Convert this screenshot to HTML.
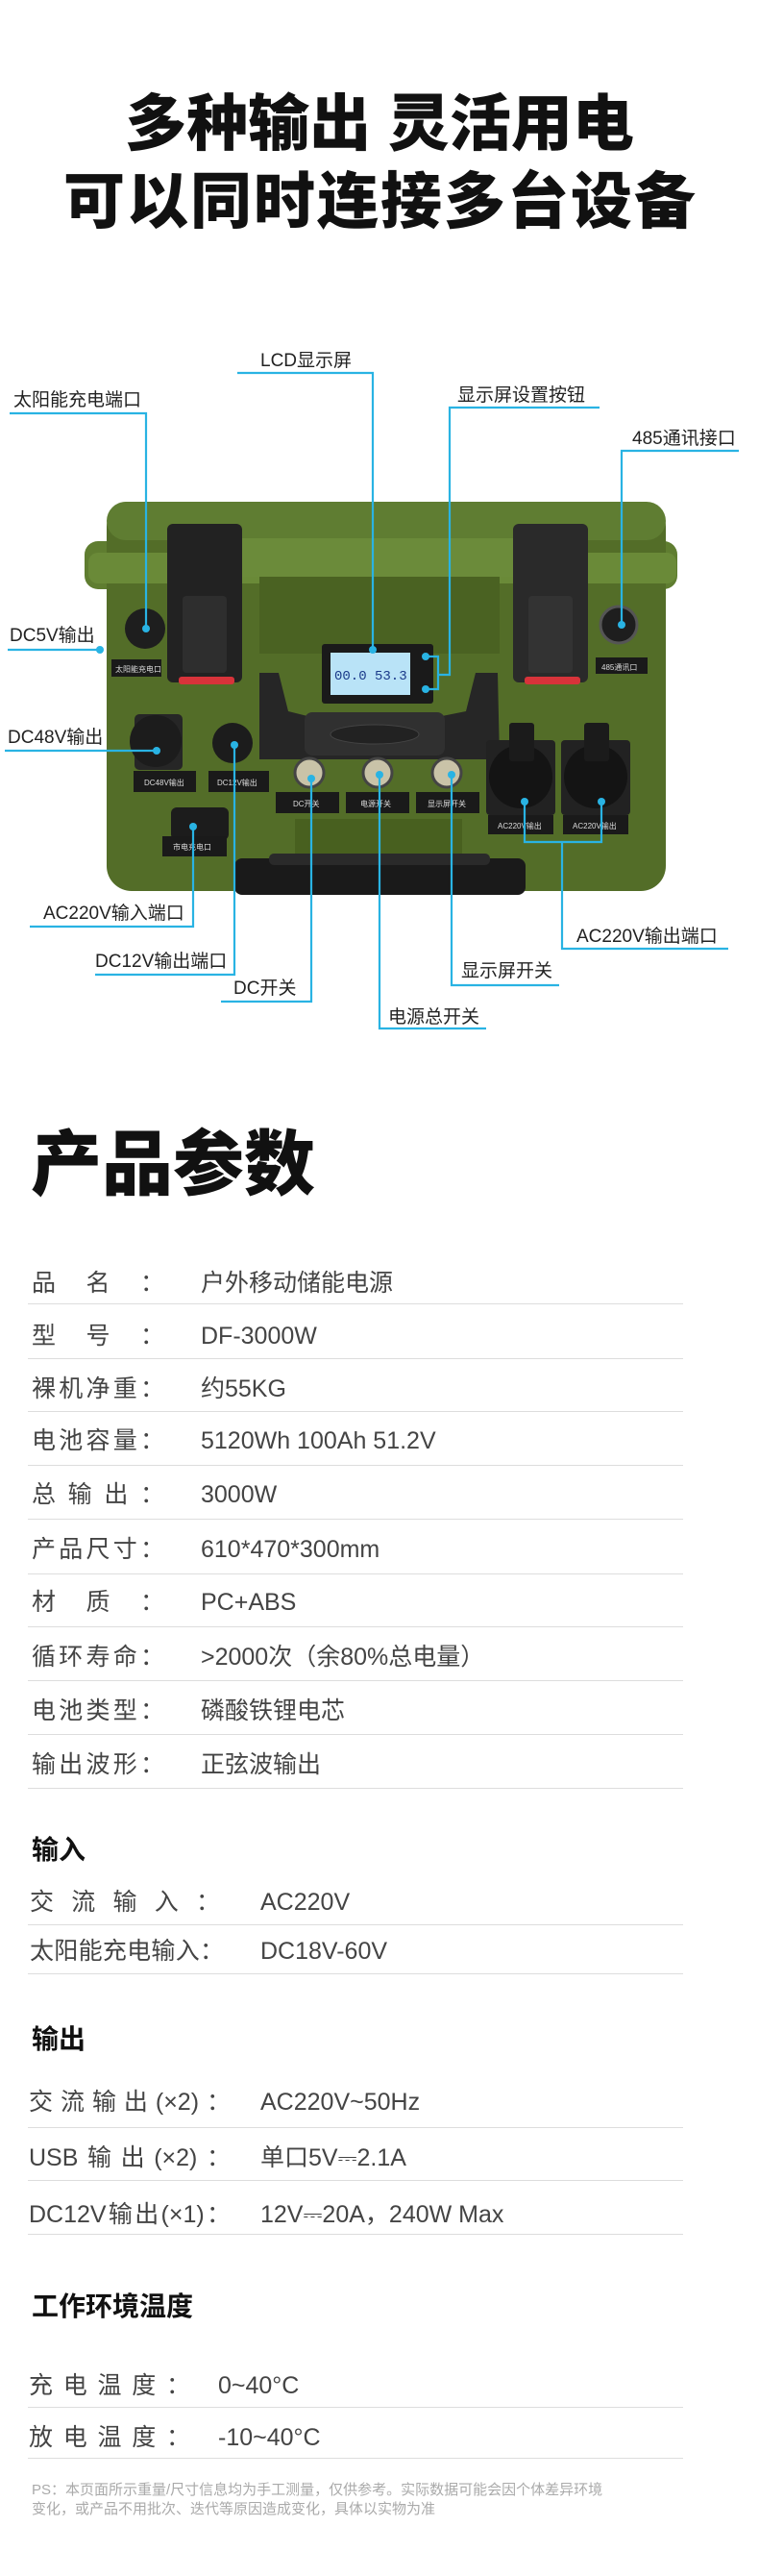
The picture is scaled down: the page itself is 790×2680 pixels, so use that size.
<!DOCTYPE html>
<html><head><meta charset="utf-8"><style>
*{margin:0;padding:0;box-sizing:border-box}
body{width:790px;height:2680px;background:#fff;position:relative;overflow:hidden;font-family:"Liberation Sans","Noto Sans CJK SC",sans-serif;color:#333}
.t{position:absolute;white-space:nowrap}
.h1{font-weight:900;font-size:64px;color:#111;left:0;width:790px;text-align:center;line-height:1}
.row{position:absolute;left:29px;width:682px;border-bottom:1px solid #ddd}
.lab{position:absolute;left:4px;text-align-last:justify;font-size:25px;color:#444;line-height:1}
.val{position:absolute;font-size:25px;color:#444;line-height:1}
.sec{position:absolute;left:33px;font-weight:bold;font-size:28px;color:#111;line-height:1}
</style></head><body>
<div class="t h1" style="top:97px">多种输出 灵活用电</div>
<div class="t h1" style="top:178px;letter-spacing:2px;padding-left:2px">可以同时连接多台设备</div>

<svg style="position:absolute;left:0;top:0" width="790" height="1100">
<g font-family="Liberation Sans,Noto Sans CJK SC,sans-serif" font-size="19" fill="#222">
<!-- device -->
<rect x="88" y="563" width="617" height="50" rx="14" fill="#5f7d30"/>
<rect x="111" y="522" width="582" height="405" rx="26" fill="#536d28"/>
<rect x="111" y="522" width="582" height="40" rx="20" fill="#5f7d32"/>
<rect x="92" y="575" width="612" height="32" rx="10" fill="#6a8a38"/>
<rect x="250" y="560" width="300" height="40" fill="#6b8b3a"/>
<rect x="270" y="600" width="250" height="80" fill="#4a6222"/>
<!-- latches -->
<rect x="174" y="545" width="78" height="165" rx="6" fill="#222"/>
<rect x="190" y="620" width="46" height="80" rx="4" fill="#2e2e2e"/>
<rect x="186" y="704" width="58" height="8" rx="3" fill="#d8333a"/>
<rect x="534" y="545" width="78" height="165" rx="6" fill="#2a2a2a"/>
<rect x="550" y="620" width="46" height="80" rx="4" fill="#333"/>
<rect x="546" y="704" width="58" height="8" rx="3" fill="#d8333a"/>
<!-- handle around lcd -->
<path d="M270 700 L290 700 L300 740 L320 745 L460 745 L485 740 L495 700 L518 700 L520 790 L270 790 Z" fill="#262626"/>
<rect x="317" y="741" width="146" height="45" rx="8" fill="#303030"/>
<ellipse cx="390" cy="764" rx="46" ry="10" fill="#222" stroke="#444"/>
<!-- lcd -->
<rect x="335" y="670" width="116" height="62" rx="3" fill="#1a1a1a"/>
<rect x="344" y="679" width="83" height="44" fill="#b9e3f7"/>
<text x="348" y="707" font-size="14" fill="#1a3a8a" font-family="Liberation Mono,monospace">00.0 53.3</text>
<!-- ports left -->
<circle cx="151" cy="654" r="21" fill="#1e1e1e"/>
<rect x="116" y="686" width="52" height="18" fill="#1a1a1a"/>
<text x="120" y="699" font-size="8" fill="#ddd">太阳能充电口</text>
<circle cx="644" cy="650" r="19" fill="#1e1e1e" stroke="#555" stroke-width="3"/>
<rect x="620" y="684" width="54" height="17" fill="#1a1a1a"/>
<text x="626" y="697" font-size="8" fill="#ddd">485通讯口</text>
<rect x="140" y="743" width="50" height="58" rx="5" fill="#262626"/>
<circle cx="162" cy="771" r="27" fill="#1c1c1c"/>
<circle cx="242" cy="773" r="21" fill="#1c1c1c"/>
<rect x="139" y="802" width="65" height="22" fill="#1a1a1a"/>
<text x="150" y="817" font-size="8" fill="#ddd">DC48V输出</text>
<rect x="217" y="802" width="63" height="22" fill="#1a1a1a"/>
<text x="226" y="817" font-size="8" fill="#ddd">DC12V输出</text>
<rect x="178" y="840" width="60" height="34" rx="6" fill="#1c1c1c"/>
<rect x="169" y="870" width="67" height="21" fill="#1a1a1a"/>
<text x="180" y="884" font-size="8" fill="#ddd">市电充电口</text>
<!-- switches -->
<circle cx="322" cy="804" r="15" fill="#c9c3a8" stroke="#444" stroke-width="3"/>
<circle cx="393" cy="804" r="15" fill="#c9c3a8" stroke="#444" stroke-width="3"/>
<circle cx="465" cy="804" r="15" fill="#c9c3a8" stroke="#444" stroke-width="3"/>
<rect x="287" y="824" width="66" height="22" fill="#1a1a1a"/>
<text x="305" y="839" font-size="8" fill="#ddd">DC开关</text>
<rect x="360" y="824" width="66" height="22" fill="#1a1a1a"/>
<text x="375" y="839" font-size="8" fill="#ddd">电源开关</text>
<rect x="433" y="824" width="66" height="22" fill="#1a1a1a"/>
<text x="445" y="839" font-size="8" fill="#ddd">显示屏开关</text>
<!-- ac outlets -->
<rect x="506" y="770" width="72" height="78" rx="4" fill="#222"/>
<rect x="584" y="770" width="72" height="78" rx="4" fill="#222"/>
<circle cx="542" cy="808" r="33" fill="#141414"/>
<circle cx="620" cy="808" r="33" fill="#141414"/>
<rect x="530" y="752" width="26" height="40" rx="3" fill="#1b1b1b"/>
<rect x="608" y="752" width="26" height="40" rx="3" fill="#1b1b1b"/>
<rect x="508" y="848" width="68" height="20" fill="#1a1a1a"/>
<rect x="586" y="848" width="68" height="20" fill="#1a1a1a"/>
<text x="518" y="862" font-size="8" fill="#ddd">AC220V输出</text>
<text x="596" y="862" font-size="8" fill="#ddd">AC220V输出</text>
<!-- bottom handle -->
<rect x="307" y="852" width="174" height="45" fill="#48601f"/>
<rect x="244" y="893" width="303" height="38" rx="8" fill="#1a1a1a"/>
<rect x="280" y="888" width="230" height="12" rx="5" fill="#2a2a2a"/>
</g>
<!-- callouts -->
<g stroke="#29b3e3" stroke-width="2.2" fill="none">
<polyline points="247,388 388,388 388,676"/>
<polyline points="10,430 152,430 152,654"/>
<polyline points="624,424 468,424 468,702 456,702"/>
<polyline points="443,683 456,683 456,717 443,717"/>
<polyline points="769,469 647,469 647,650"/>
<line x1="8" y1="676" x2="104" y2="676"/>
<line x1="5" y1="781" x2="163" y2="781"/>
<polyline points="31,964 201,964 201,860"/>
<polyline points="99,1014 244,1014 244,775"/>
<polyline points="230,1042 324,1042 324,810"/>
<polyline points="506,1070 395,1070 395,806"/>
<polyline points="582,1025 470,1025 470,806"/>
<polyline points="758,987 585,987 585,876"/>
<polyline points="546,834 546,876 626,876 626,834"/>
</g>
<g fill="#29b3e3">
<circle cx="388" cy="676" r="4"/><circle cx="152" cy="654" r="4"/><circle cx="443" cy="683" r="4"/><circle cx="443" cy="717" r="4"/>
<circle cx="647" cy="650" r="4"/><circle cx="104" cy="676" r="4"/><circle cx="163" cy="781" r="4"/><circle cx="201" cy="860" r="4"/>
<circle cx="244" cy="775" r="4"/><circle cx="324" cy="810" r="4"/><circle cx="395" cy="806" r="4"/><circle cx="470" cy="806" r="4"/>
<circle cx="546" cy="834" r="4"/><circle cx="626" cy="834" r="4"/>
</g>
<g font-family="Liberation Sans,Noto Sans CJK SC,sans-serif" font-size="19" fill="#222">
<text x="271" y="381">LCD显示屏</text>
<text x="14" y="422">太阳能充电端口</text>
<text x="476" y="417">显示屏设置按钮</text>
<text x="658" y="462">485通讯接口</text>
<text x="10" y="667">DC5V输出</text>
<text x="8" y="773">DC48V输出</text>
<text x="45" y="956">AC220V输入端口</text>
<text x="99" y="1006">DC12V输出端口</text>
<text x="243" y="1034">DC开关</text>
<text x="404" y="1064">电源总开关</text>
<text x="480" y="1016">显示屏开关</text>
<text x="600" y="980">AC220V输出端口</text>
</g>
</svg>

<div class="t" style="left:32px;top:1175px;font-size:74px;font-weight:900;color:#111;line-height:1">产品参数</div>

<div class="row" style="top:1310px;height:47px"><div class="lab" style="top:13px;width:138px">品名：</div><div class="val" style="left:180px;top:13px">户外移动储能电源</div></div>
<div class="row" style="top:1366px;height:48px"><div class="lab" style="top:12px;width:138px">型号：</div><div class="val" style="left:180px;top:12px">DF-3000W</div></div>
<div class="row" style="top:1421px;height:48px"><div class="lab" style="top:12px;width:138px">裸机净重：</div><div class="val" style="left:180px;top:12px">约55KG</div></div>
<div class="row" style="top:1476px;height:49px"><div class="lab" style="top:11px;width:138px">电池容量：</div><div class="val" style="left:180px;top:11px">5120Wh 100Ah 51.2V</div></div>
<div class="row" style="top:1532px;height:49px"><div class="lab" style="top:11px;width:138px">总输出：</div><div class="val" style="left:180px;top:11px">3000W</div></div>
<div class="row" style="top:1588px;height:50px"><div class="lab" style="top:12px;width:138px">产品尺寸：</div><div class="val" style="left:180px;top:12px">610*470*300mm</div></div>
<div class="row" style="top:1644px;height:49px"><div class="lab" style="top:11px;width:138px">材质：</div><div class="val" style="left:180px;top:11px">PC+ABS</div></div>
<div class="row" style="top:1700px;height:49px"><div class="lab" style="top:12px;width:138px">循环寿命：</div><div class="val" style="left:180px;top:12px">&gt;2000次（余80%总电量）</div></div>
<div class="row" style="top:1756px;height:49px"><div class="lab" style="top:12px;width:138px">电池类型：</div><div class="val" style="left:180px;top:12px">磷酸铁锂电芯</div></div>
<div class="row" style="top:1812px;height:49px"><div class="lab" style="top:12px;width:138px">输出波形：</div><div class="val" style="left:180px;top:12px">正弦波输出</div></div>

<div class="sec" style="top:1911px">输入</div>
<div class="row" style="top:1955px;height:48px"><div class="lab" style="left:2px;top:12px;width:198px">交流输入：</div><div class="val" style="left:242px;top:12px">AC220V</div></div>
<div class="row" style="top:2006px;height:48px"><div class="lab" style="left:2px;top:12px;width:202px">太阳能充电输入：</div><div class="val" style="left:242px;top:12px">DC18V-60V</div></div>

<div class="sec" style="top:2108px">输出</div>
<div class="row" style="top:2163px;height:51px"><div class="lab" style="left:1px;top:12px;width:210px">交流输出(×2)：</div><div class="val" style="left:242px;top:12px">AC220V~50Hz</div></div>
<div class="row" style="top:2222px;height:47px"><div class="lab" style="left:1px;top:11px;width:210px">USB输出(×2)：</div><div class="val" style="left:242px;top:11px">单口5V⎓2.1A</div></div>
<div class="row" style="top:2280px;height:45px"><div class="lab" style="left:1px;top:12px;width:210px">DC12V输出(×1)：</div><div class="val" style="left:242px;top:12px">12V⎓20A，240W Max</div></div>

<div class="sec" style="top:2386px">工作环境温度</div>
<div class="row" style="top:2458px;height:47px"><div class="lab" style="left:1px;top:12px;width:168px">充电温度：</div><div class="val" style="left:198px;top:12px">0~40°C</div></div>
<div class="row" style="top:2512px;height:46px"><div class="lab" style="left:1px;top:12px;width:168px">放电温度：</div><div class="val" style="left:198px;top:12px">-10~40°C</div></div>

<div class="t" style="left:33px;top:2581px;font-size:15px;color:#aaa;line-height:20px">PS：本页面所示重量/尺寸信息均为手工测量，仅供参考。实际数据可能会因个体差异环境<br>变化，或产品不用批次、迭代等原因造成变化，具体以实物为准</div>
</body></html>
